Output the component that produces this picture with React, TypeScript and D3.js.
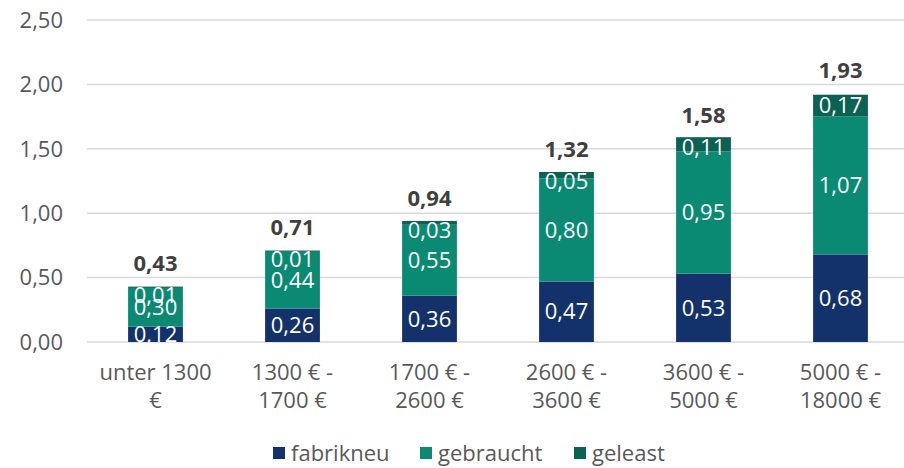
import React from "react";
import { scaleBand, scaleLinear, stack } from "d3";

const categories = [
  ["unter 1300", "€"],
  ["1300 € -", "1700 €"],
  ["1700 € -", "2600 €"],
  ["2600 € -", "3600 €"],
  ["3600 € -", "5000 €"],
  ["5000 € -", "18000 €"],
];
const fabrikneu = [0.12, 0.26, 0.36, 0.47, 0.53, 0.68];
const gebraucht = [0.3, 0.44, 0.55, 0.8, 0.95, 1.07];
const geleast = [0.01, 0.01, 0.03, 0.05, 0.11, 0.17];
const totals = [0.43, 0.71, 0.94, 1.32, 1.58, 1.93];
const yTicks = [0, 0.5, 1, 1.5, 2, 2.5];

const seriesKeys = ["fabrikneu", "gebraucht", "geleast"];
const colors = {
  fabrikneu: "#13326b",
  gebraucht: "#0a8a73",
  geleast: "#0b6152",
};

const fmt = (v: number) => v.toFixed(2).replace(".", ",");

export default function App() {
  const width = 904;
  const height = 468;
  const margin = { top: 20, right: -5, bottom: 126, left: 87 };
  const innerWidth = width - margin.left - margin.right;
  const innerHeight = height - margin.top - margin.bottom;
  const font = "'Open Sans', sans-serif";
  const fs = 22;

  const rows = categories.map((c, i) => ({
    key: i,
    fabrikneu: fabrikneu[i],
    gebraucht: gebraucht[i],
    geleast: geleast[i],
  }));
  const stacked = stack<any>().keys(seriesKeys)(rows);

  const xScale = scaleBand<number>()
    .domain(categories.map((c, i) => i))
    .range([0, innerWidth])
    .paddingInner(0.6)
    .paddingOuter(0.3);
  const yScale = scaleLinear().domain([0, 2.5]).range([innerHeight, 0]);
  const bw = xScale.bandwidth();

  return (
    <svg
      width={width}
      height={height}
      style={{ position: "absolute", left: 0, top: 0 }}
      fontFamily={font}
    >
      <g transform={`translate(${margin.left},${margin.top})`}>
        {/* gridlines and y labels */}
        {yTicks.map((t) => (
          <g key={t} transform={`translate(0,${yScale(t)})`}>
            <line x1={0} x2={innerWidth} stroke="#d9d9d9" strokeWidth={1.5} />
            <text
              x={-24}
              dy="0.35em"
              textAnchor="end"
              fontSize={fs}
              fill="#595959"
            >
              {fmt(t)}
            </text>
          </g>
        ))}
        {/* bars */}
        {stacked.map((s) => (
          <g key={s.key}>
            {s.map((d, i) => (
              <rect
                key={i}
                x={xScale(i)}
                y={yScale(d[1])}
                width={bw}
                height={yScale(d[0]) - yScale(d[1])}
                fill={colors[s.key as keyof typeof colors]}
              />
            ))}
          </g>
        ))}
        {/* segment labels */}
        {stacked.map((s) =>
          s.map((d, i) => {
            const mid = (yScale(d[0]) + yScale(d[1])) / 2;
            const top = yScale(totals[i]) + 9;
            return (
              <text
                key={`${s.key}-${i}`}
                x={(xScale(i) ?? 0) + bw / 2}
                y={Math.max(mid, top)}
                dy="0.35em"
                textAnchor="middle"
                fontSize={fs}
                fill="#ffffff"
              >
                {fmt(d[1] - d[0])}
              </text>
            );
          })
        )}
        {/* totals */}
        {totals.map((t, i) => (
          <text
            key={i}
            x={(xScale(i) ?? 0) + bw / 2}
            y={yScale(t) - 23}
            dy="0.35em"
            textAnchor="middle"
            fontSize={fs}
            fontWeight="bold"
            fill="#404040"
          >
            {fmt(t)}
          </text>
        ))}
        {/* x labels */}
        {categories.map((c, i) => (
          <text
            key={i}
            x={(xScale(i) ?? 0) + bw / 2}
            y={innerHeight + 30}
            textAnchor="middle"
            fontSize={fs}
            fill="#595959"
          >
            {c.map((line, j) => (
              <tspan key={j} x={(xScale(i) ?? 0) + bw / 2} dy={j === 0 ? "0.35em" : 28}>
                {line}
              </tspan>
            ))}
          </text>
        ))}
      </g>
      {/* legend */}
      <g transform="translate(273,453)">
        {[
          { key: "fabrikneu", x: 0 },
          { key: "gebraucht", x: 147 },
          { key: "geleast", x: 301 },
        ].map((l) => (
          <g key={l.key} transform={`translate(${l.x},0)`}>
            <rect
              x={0}
              y={-6}
              width={12}
              height={12}
              fill={colors[l.key as keyof typeof colors]}
            />
            <text x={18} dy="0.35em" fontSize={fs} fill="#595959">
              {l.key}
            </text>
          </g>
        ))}
      </g>
    </svg>
  );
}
